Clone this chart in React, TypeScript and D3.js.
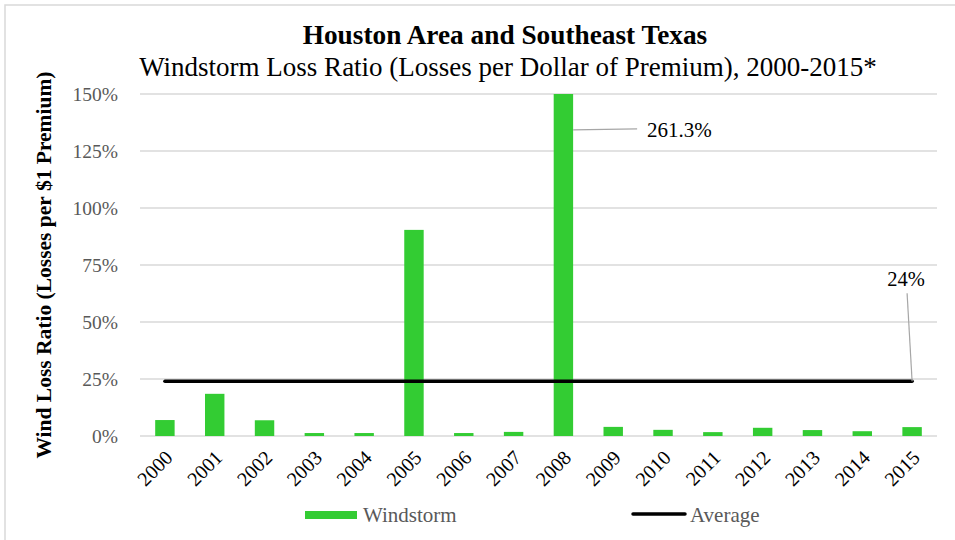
import React from "react";
import * as d3 from "d3";

const years = ["2000","2001","2002","2003","2004","2005","2006","2007","2008","2009","2010","2011","2012","2013","2014","2015"];
const windstorm = [7.0, 18.5, 6.9, 1.3, 1.3, 90.4, 1.3, 1.8, 261.3, 4.0, 2.7, 1.7, 3.6, 2.6, 2.1, 3.9];
const average = 24;
const yTicks = [0, 25, 50, 75, 100, 125, 150];
const title = "Houston Area and Southeast Texas";
const subtitle = "Windstorm Loss Ratio (Losses per Dollar of Premium), 2000-2015*";
const yTitle = "Wind Loss Ratio (Losses per $1 Premium)";

const W = 955, H = 540;
const plot = { left: 140, right: 937, top: 94, bottom: 436 };
const serif = "'Liberation Serif', 'Times New Roman', serif";

export default function App() {
  const x = d3.scaleBand<string>().domain(years).range([plot.left, plot.right]).paddingInner(0.61).paddingOuter(0.305);
  const y = d3.scaleLinear().domain([0, 150]).range([plot.bottom, plot.top]);
  const yc = (v: number) => y(Math.min(v, 150));
  const bw = x.bandwidth();
  const cx = (yr: string) => (x(yr) as number) + bw / 2;
  const first = years[0], last = years[years.length - 1];
  const peakIdx = windstorm.indexOf(d3.max(windstorm) as number);
  const peakYr = years[peakIdx];
  const peakY = y(134.5);
  const avgY = y(average);
  return (
    <svg width={W} height={H} style={{ position: "fixed", left: 0, top: 0, background: "#fff", fontFamily: serif }}>
      <rect x={5} y={5} width={W + 10} height={H + 10} fill="#fff" stroke="#d9d9d9" strokeWidth={1.5} />
      <text x={505} y={44} textAnchor="middle" fontWeight="bold" fontSize={27.3} fill="#000">{title}</text>
      <text x={508} y={76} textAnchor="middle" fontSize={27} fill="#000">{subtitle}</text>
      {yTicks.map(t => (
        <g key={t}>
          <line x1={plot.left} x2={plot.right} y1={y(t)} y2={y(t)} stroke="#d9d9d9" strokeWidth={1.3} />
          <text x={118} y={y(t)} dy="0.35em" textAnchor="end" fontSize={19.5} fill="#595959">{t}%</text>
        </g>
      ))}
      <text transform={`translate(43,${(plot.top + plot.bottom) / 2}) rotate(-90)`} textAnchor="middle" dy="0.35em" fontWeight="bold" fontSize={21.5} fill="#000">{yTitle}</text>
      {years.map((yr, i) => (
        <rect key={yr} x={x(yr)} y={yc(windstorm[i])} width={bw} height={plot.bottom - yc(windstorm[i])} fill="#33cc33" />
      ))}
      <line x1={cx(first)} x2={cx(last)} y1={avgY} y2={avgY} stroke="#000" strokeWidth={3.5} strokeLinecap="round" />
      {years.map(yr => (
        <text key={yr} transform={`translate(${cx(yr) + 4},${plot.bottom + 18}) rotate(-45)`} textAnchor="end" dy="0.35em" fontSize={20} fill="#000">{yr}</text>
      ))}
      <line x1={(x(peakYr) as number) + bw} x2={(x(peakYr) as number) + bw + 64} y1={peakY + 0.5} y2={peakY - 0.5} stroke="#a6a6a6" strokeWidth={1.2} />
      <text x={(x(peakYr) as number) + bw + 74} y={peakY} dy="0.35em" fontSize={21} fill="#000">{windstorm[peakIdx].toFixed(1)}%</text>
      <line x1={cx(last) - 5} x2={cx(last)} y1={avgY - 88} y2={avgY} stroke="#a6a6a6" strokeWidth={1.2} />
      <text x={cx(last) - 6} y={avgY - 95} textAnchor="middle" fontSize={20.5} fill="#000">{average}%</text>
      <rect x={305} y={511} width={52} height={8} fill="#33cc33" />
      <text x={363} y={515} dy="0.35em" fontSize={21} fill="#595959">Windstorm</text>
      <line x1={633} x2={685} y1={514} y2={514} stroke="#000" strokeWidth={3.5} strokeLinecap="round" />
      <text x={690} y={515} dy="0.35em" fontSize={21} fill="#595959">Average</text>
    </svg>
  );
}
